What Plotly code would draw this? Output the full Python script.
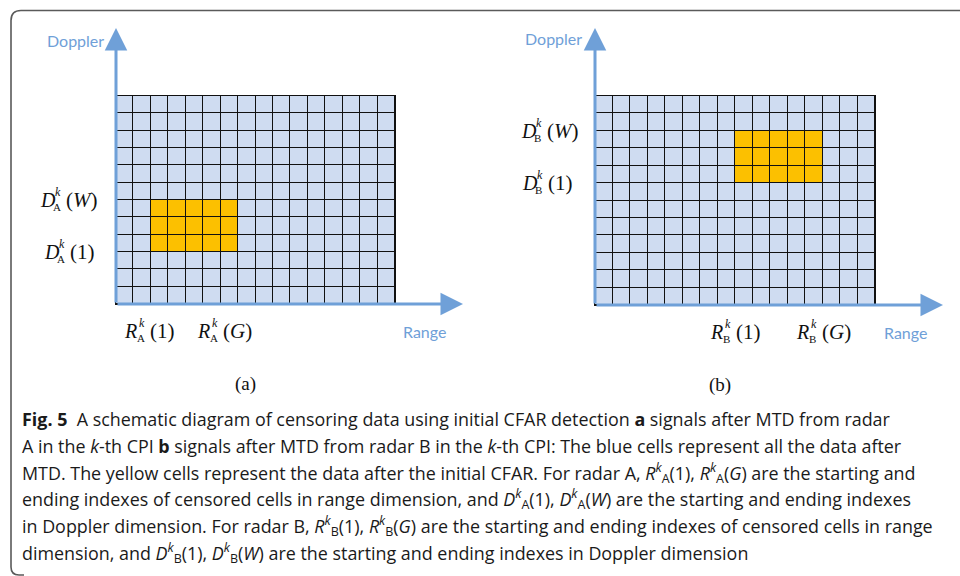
import plotly.graph_objects as go

# ---- data ----
n_range_cells = 16
n_doppler_cells = 12
# censored cells (1-based indices): range start/end, doppler start/end
radar_names = ["A", "B"]
range_start = [3, 9]
range_end = [7, 13]
doppler_start = [4, 8]
doppler_end = [6, 10]
panel_tags = ["(a)", "(b)"]

caption_lines = [
    "<b>Fig. 5</b>  A schematic diagram of censoring data using initial CFAR detection <b>a</b> signals after MTD from radar",
    "A in the <i>k</i>-th CPI <b>b</b> signals after MTD from radar B in the <i>k</i>-th CPI: The blue cells represent all the data after",
    "MTD. The yellow cells represent the data after the initial CFAR. For radar A, <i>R</i><sup><i>k</i></sup><sub>A</sub>(1), <i>R</i><sup><i>k</i></sup><sub>A</sub>(<i>G</i>) are the starting and",
    "ending indexes of censored cells in range dimension, and <i>D</i><sup><i>k</i></sup><sub>A</sub>(1), <i>D</i><sup><i>k</i></sup><sub>A</sub>(<i>W</i>) are the starting and ending indexes",
    "in Doppler dimension. For radar B, <i>R</i><sup><i>k</i></sup><sub>B</sub>(1), <i>R</i><sup><i>k</i></sup><sub>B</sub>(<i>G</i>) are the starting and ending indexes of censored cells in range",
    "dimension, and <i>D</i><sup><i>k</i></sup><sub>B</sub>(1), <i>D</i><sup><i>k</i></sup><sub>B</sub>(<i>W</i>) are the starting and ending indexes in Doppler dimension",
]

# ---- styling ----
W, H = 960, 576
BLUE_CELL = "#cfdcf1"
YELLOW = "#fcc000"
AXIS_BLUE = "#6fa0d8"
SERIF = "Liberation Serif, Times New Roman, serif"
SANS = "Open Sans, Noto Sans, sans-serif"
LABEL_SANS = "Lato, Open Sans, sans-serif"

# grid pixel boxes (left, right, top, bottom)
boxes = [(116, 395, 96, 304), (595, 875, 96, 305)]

fig = go.Figure()

xs = list(range(1, n_range_cells + 1))
ys = list(range(1, n_doppler_cells + 1))

for i, name in enumerate(radar_names):
    z = [[1 if (range_start[i] <= c <= range_end[i] and doppler_start[i] <= r <= doppler_end[i]) else 0
          for c in xs] for r in ys]
    sfx = "" if i == 0 else str(i + 1)
    fig.add_trace(go.Heatmap(
        x=xs, y=ys, z=z, zmin=0, zmax=1,
        colorscale=[[0, BLUE_CELL], [1, YELLOW]],
        showscale=False, xgap=1, ygap=1, hoverinfo="skip",
        xaxis="x" + sfx, yaxis="y" + sfx,
    ))
    l, r, t, b = boxes[i]
    ax_common = dict(showgrid=False, zeroline=False, showticklabels=False, ticks="",
                     showline=True, mirror=True, linecolor="#111", linewidth=1, fixedrange=True)
    fig.layout["xaxis" + sfx] = dict(domain=[l / W, r / W], range=[0.5, n_range_cells + 0.5],
                                     anchor="y" + sfx, **ax_common)
    fig.layout["yaxis" + sfx] = dict(domain=[(H - b) / H, (H - t) / H], range=[0.5, n_doppler_cells + 0.5],
                                     anchor="x" + sfx, **ax_common)

annotations = []


def math_label(name, base, arg, xref, x, xshift, yref, y, yshift):
    """Composite label base^k_name(arg) built from stacked pieces."""
    pieces = [
        (f"<i>{base}</i>", 20, 0, 0),
        ("<i>k</i>", 12, 15, 8),
        (name, 11, 13, -7),
        (f"({arg})", 21, 26, 0),
    ]
    for txt, size, dx, dy in pieces:
        annotations.append(dict(
            text=txt, xref=xref, x=x, yref=yref, y=y, xanchor="left", yanchor="middle",
            xshift=xshift + dx, yshift=yshift + dy, showarrow=False,
            font=dict(family=SERIF, size=size, color="#111"),
        ))


for i, name in enumerate(radar_names):
    sfx = "" if i == 0 else str(i + 1)
    l, r, t, b = boxes[i]
    xd, yd = "x" + sfx + " domain", "y" + sfx + " domain"
    gw, gh = r - l, b - t
    # axis arrows
    annotations.append(dict(xref=xd, yref=yd, x=0, y=1 + 68 / gh, ax=0, ay=68 + gh,
                            axref="pixel", ayref="pixel", text="", showarrow=True,
                            arrowhead=2, arrowsize=1.5, arrowwidth=3, arrowcolor=AXIS_BLUE))
    annotations.append(dict(xref=xd, yref=yd, x=1 + 68 / gw, y=0, ax=-(68 + gw), ay=0,
                            axref="pixel", ayref="pixel", text="", showarrow=True,
                            arrowhead=2, arrowsize=1.5, arrowwidth=3, arrowcolor=AXIS_BLUE))
    # axis names
    annotations.append(dict(text="Doppler", xref=xd, yref=yd, x=0, y=1,
                            xshift=-41 if i == 0 else -42, yshift=55 if i == 0 else 57,
                            xanchor="center", yanchor="middle",
                            showarrow=False, font=dict(family=LABEL_SANS, size=16, color=AXIS_BLUE)))
    annotations.append(dict(text="Range", xref=xd, yref=yd, x=1, y=0, xshift=30, yshift=-27,
                            xanchor="center", yanchor="middle",
                            showarrow=False, font=dict(family=LABEL_SANS, size=16, color=AXIS_BLUE)))
    # panel tag
    annotations.append(dict(text=panel_tags[i], xref=xd, yref=yd, x=0.5, y=0,
                            xshift=-10 if i == 0 else -15, yshift=-80,
                            xanchor="center", yanchor="middle",
                            showarrow=False, font=dict(family=SERIF, size=19, color="#111")))

# index labels
# radar A
math_label("A", "D", "<i>W</i>", "x domain", 0, -78, "y", doppler_end[0] + 0.5, 0)
math_label("A", "D", "1", "x domain", 0, -74, "y", doppler_start[0] - 0.5, 0)
math_label("A", "R", "1", "x", range_start[0], -38, "y domain", 0, -27)
math_label("A", "R", "<i>G</i>", "x", range_end[0], -34, "y domain", 0, -27)
# radar B
math_label("B", "D", "<i>W</i>", "x2 domain", 0, -76, "y2", doppler_end[1] + 0.5, 0)
math_label("B", "D", "1", "x2 domain", 0, -75, "y2", doppler_start[1] - 0.5, 0)
math_label("B", "R", "1", "x2", range_start[1], -36, "y2 domain", 0, -27)
math_label("B", "R", "<i>G</i>", "x2", range_end[1], -20, "y2 domain", 0, -27)

# caption
for j, line in enumerate(caption_lines):
    yc = 419 + j * 26.8
    annotations.append(dict(text=line, xref="paper", yref="paper", x=20 / W, y=1 - yc / H,
                            xanchor="left", yanchor="middle", showarrow=False,
                            font=dict(family=SANS, size=17.9, color="#1a1a1a")))

# rounded frame
def P(x, y):
    return f"{x / W:.5f},{1 - y / H:.5f}"

frame = (f"M {P(965, 10.5)} L {P(21, 10.5)} Q {P(11, 10.5)} {P(11, 20.5)} "
         f"L {P(11, 567)} Q {P(11, 575)} {P(19, 575)} L {P(24, 575)}")
shapes = [dict(type="path", xref="paper", yref="paper", path=frame,
               line=dict(color="#5a5a5a", width=1.6))]

fig.update_layout(
    width=W, height=H, margin=dict(l=0, r=0, t=0, b=0),
    paper_bgcolor="white", plot_bgcolor="#111",
    showlegend=False, annotations=annotations, shapes=shapes,
)

fig.write_html("out.html", config={"displayModeBar": False})
